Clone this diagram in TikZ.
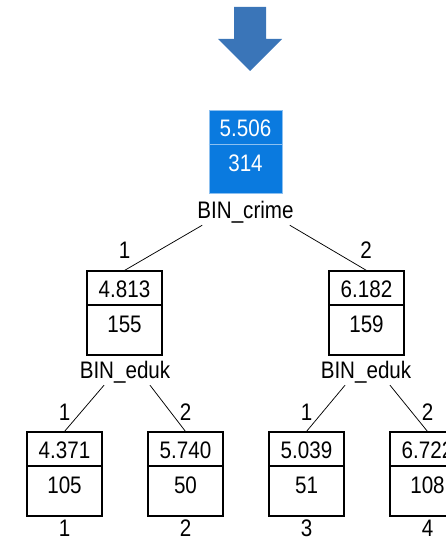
\documentclass[tikz,border=0pt]{standalone}
\usepackage{fontspec}
\setmainfont{Liberation Sans}
\usetikzlibrary{calc}
\definecolor{arrowblue}{HTML}{3A75B8}
\definecolor{rootblue}{HTML}{0A7ADF}
\definecolor{rootedge}{HTML}{8CC0F0}
\newcommand{\tall}[1]{\scalebox{1}[1.16]{#1}}
\tikzset{
  txt/.style={inner sep=0pt, font=\fontsize{20.6}{23}\selectfont},
  nodebox/.style={draw=black, line width=1.1pt, minimum width=75pt, minimum height=84pt, inner sep=0pt},
  rootbox/.style={fill=rootblue, draw=rootedge, line width=0.8pt, minimum width=73pt, minimum height=83pt, inner sep=0pt},
  branch/.style={draw=black, line width=0.75pt},
}
\begin{document}
\begin{tikzpicture}[x=1pt, y=-1pt]
\useasboundingbox (0,0) rectangle (446,540);

% downward block arrow
\fill[arrowblue] (234,7) -- (266,7) -- (266,39) -- (282,39) -- (250,71)
  -- (218,39) -- (234,39) -- cycle;

% root node
\node[rootbox] (root) at (245.5,151.5) {};
\draw[rootedge, line width=0.8pt] (root.west |- 0,144) -- (root.east |- 0,144);
\node[txt, text=white] (rootmean) at (245.5,128) {\tall{5.506}};
\node[txt, text=white] (rootn) at (245.5,163) {\tall{314}};
\node[txt] (crime) at (245.5,212) {\tall{BIN\_crime}};

% second level
\node[nodebox] (a) at (124.5,313) {};
\draw[line width=1.1pt] (a.west |- 0,305) -- (a.east |- 0,305);
\node[txt] (amean) at (124.5,289) {\tall{4.813}};
\node[txt] (an) at (124.5,324) {\tall{155}};
\node[txt] (alab) at (124.5,250) {\tall{1}};
\node[txt] (aedu) at (125,372) {\tall{BIN\_eduk}};

\node[nodebox] (b) at (366.5,313) {};
\draw[line width=1.1pt] (b.west |- 0,305) -- (b.east |- 0,305);
\node[txt] (bmean) at (366.5,289) {\tall{6.182}};
\node[txt] (bn) at (366.5,324) {\tall{159}};
\node[txt] (blab) at (366,250) {\tall{2}};
\node[txt] (bedu) at (366,372) {\tall{BIN\_eduk}};

% third level
\foreach \nm/\x/\mean/\n/\up/\down in {
    c/64.5/4.371/105/1/1,
    d/185.5/5.740/50/2/2,
    e/306.5/5.039/51/1/3,
    f/427.5/6.722/108/2/4} {
  \node[nodebox] (\nm) at (\x,474) {};
  \draw[line width=1.1pt] (\nm.west |- 0,466) -- (\nm.east |- 0,466);
  \node[txt] (\nm mean) at (\x,450) {\tall{\mean}};
  \node[txt] (\nm n) at (\x,485) {\tall{\n}};
  \node[txt] (\nm up) at (\x,412) {\tall{\up}};
  \node[txt] (\nm down) at (\x,528) {\tall{\down}};
}

% branches
\draw[branch] ($(crime.south west)+(5,2)$) -- (a.north);
\draw[branch] ($(crime.south east)+(-4,2)$) -- (b.north);
\draw[branch] ($(aedu.south)+(-21,2)$) -- (c.north);
\draw[branch] ($(aedu.south)+(25,2)$) -- (d.north);
\draw[branch] ($(bedu.south)+(-21,2)$) -- (e.north);
\draw[branch] ($(bedu.south)+(24,2)$) -- (f.north);
\end{tikzpicture}
\end{document}
